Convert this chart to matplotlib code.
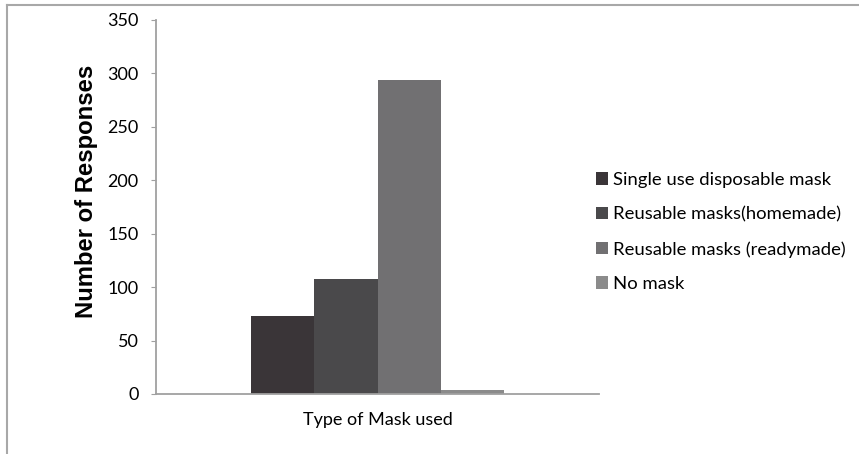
import matplotlib.pyplot as plt
from matplotlib.lines import Line2D

# Data
categories = ["Type of Mask used"]
series_names = ["Single use disposable mask", "Reusable masks(homemade)",
                "Reusable masks (readymade)", "No mask"]
values = [73, 108, 294, 4]
colors = ["#3a3538", "#4a494b", "#717072", "#8b8b8b"]

plt.rcParams["font.family"] = ["Lato", "DejaVu Sans"]

fig = plt.figure(figsize=(8.59, 4.54), dpi=100)
ax = fig.add_axes([156 / 859, 1 - 394 / 454, 443 / 859, 374 / 454])

n = len(values)
width = 0.143
for i, (name, v, c) in enumerate(zip(series_names, values, colors)):
    ax.bar(i * width - (n - 1) * width / 2, v, width=width, color=c, label=name)

ax.set_xlim(-0.5, 0.5)
ax.set_ylim(0, 350)
ax.set_yticks(range(0, 351, 50))
ax.set_xticks([0])
ax.set_xticklabels(categories)
ax.tick_params(axis="x", length=0, pad=13, labelsize=13)
ax.tick_params(axis="y", length=3.6, color="#a0a0a0", labelsize=13, pad=9)
for s in ["top", "right"]:
    ax.spines[s].set_visible(False)
for s in ["left", "bottom"]:
    ax.spines[s].set_color("#a0a0a0")
    ax.spines[s].set_linewidth(1.3)

ax.set_ylabel("Number of Responses", fontsize=17.2, fontweight="bold",
              family=["Liberation Sans", "DejaVu Sans"])
ax.yaxis.set_label_coords(-0.131, 0.543)

leg = ax.legend(loc="center left", bbox_to_anchor=(0.993, 0.433), frameon=False,
                fontsize=13.3, handlelength=0.65, handleheight=0.65,
                handletextpad=0.25, labelspacing=1.0, borderaxespad=0.0,
                borderpad=0.0)

# outer chart border (top and left visible)
fig.add_artist(Line2D([7 / 859, 1], [1 - 5 / 454, 1 - 5 / 454],
                      transform=fig.transFigure, color="#a8a8a8", lw=1.5))
fig.add_artist(Line2D([7 / 859, 7 / 859], [0, 1 - 5 / 454],
                      transform=fig.transFigure, color="#a8a8a8", lw=1.5))

fig.savefig("out.png", dpi=100)
